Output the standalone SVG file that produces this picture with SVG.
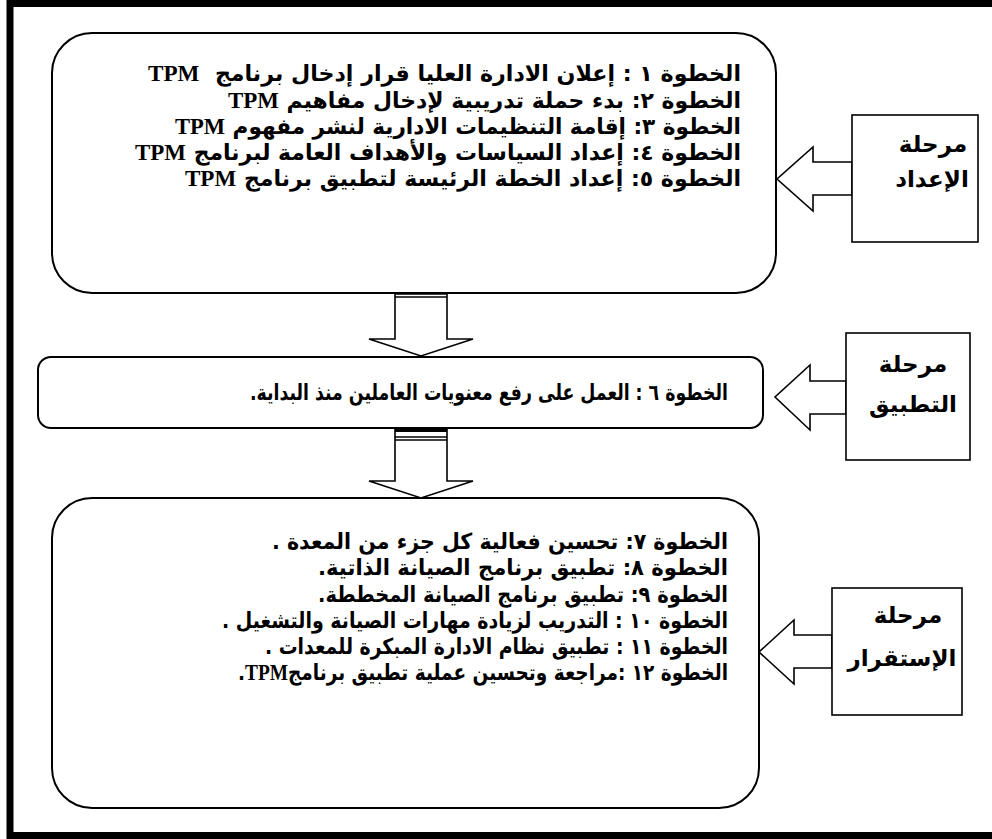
<svg xmlns="http://www.w3.org/2000/svg" width="992" height="839" viewBox="0 0 992 839">
<style>
.frame{fill:none;stroke:#000;stroke-width:7}
.box{fill:#fff;stroke:#000;stroke-width:2}
.lbl{fill:#fff;stroke:#000;stroke-width:1.6}
.arr{fill:#fff;stroke:#000;stroke-width:1.6;stroke-linejoin:miter}
.t{font-family:"DejaVu Sans",sans-serif;font-weight:bold;font-size:22px;fill:#000;direction:rtl;white-space:pre}
.e{font-family:"Liberation Serif",serif;font-weight:bold;font-size:23px}
.l{font-family:"DejaVu Sans",sans-serif;font-weight:bold;font-size:23px;fill:#000;text-anchor:middle;direction:rtl}
.bar{stroke:#000;stroke-width:1.5}
</style>
<rect class="frame" x="10" y="3.5" width="1000" height="832"/>

<g id="connectors">
  <polygon class="arr" points="395,285 447,285 447,339 473,339 421,356 369,339 395,339"/>
  <rect x="395" y="285" width="52" height="4" fill="#000"/>
  <line class="bar" x1="395" y1="291" x2="447" y2="291"/>
  <line class="bar" x1="395" y1="294" x2="447" y2="294"/>
  <line class="bar" x1="395" y1="297" x2="447" y2="297"/>
  <polygon class="arr" points="395,428 447,428 447,481 473,481 421,498 369,481 395,481"/>
  <rect x="395" y="428" width="52" height="4" fill="#000"/>
  <line class="bar" x1="395" y1="437" x2="447" y2="437"/>
  <line class="bar" x1="395" y1="440" x2="447" y2="440"/>
  <polygon class="arr" points="852,162 813,162 813,147 777,179 813,211 813,195 852,195"/>
  <polygon class="arr" points="846,381 810,381 810,365 775,397 810,430 810,414 846,414"/>
  <polygon class="arr" points="832,635 794,635 794,620 759,652 794,684 794,668 832,668"/>
</g>

<g id="prep">
  <rect class="box" x="52" y="33" width="724" height="260" rx="40" ry="40"/>
  <text class="t" x="741" y="81" textLength="593" lengthAdjust="spacingAndGlyphs">الخطوة ١ : إعلان الادارة العليا قرار إدخال برنامج  <tspan class="e">TPM</tspan></text>
  <text class="t" x="741" y="108" textLength="513" lengthAdjust="spacingAndGlyphs">الخطوة ٢: بدء حملة تدريبية لإدخال مفاهيم <tspan class="e">TPM</tspan></text>
  <text class="t" x="741" y="134" textLength="566" lengthAdjust="spacingAndGlyphs">الخطوة ٣: إقامة التنظيمات الادارية لنشر مفهوم <tspan class="e">TPM</tspan></text>
  <text class="t" x="741" y="160" textLength="606" lengthAdjust="spacingAndGlyphs">الخطوة ٤: إعداد السياسات والأهداف العامة لبرنامج <tspan class="e">TPM</tspan></text>
  <text class="t" x="741" y="186" textLength="556" lengthAdjust="spacingAndGlyphs">الخطوة ٥: إعداد الخطة الرئيسة لتطبيق برنامج <tspan class="e">TPM</tspan></text>
</g>

<g id="step6">
  <rect class="box" x="38" y="357" width="725" height="71" rx="13" ry="13"/>
  <text class="t" x="728" y="400" textLength="478" lengthAdjust="spacingAndGlyphs">الخطوة ٦ : العمل على رفع معنويات العاملين منذ البداية.</text>
</g>

<g id="stab">
  <rect class="box" x="52" y="498" width="707" height="310" rx="40" ry="40"/>
  <text class="t" x="728" y="549" textLength="456" lengthAdjust="spacingAndGlyphs">الخطوة ٧: تحسين فعالية كل جزء من المعدة .</text>
  <text class="t" x="728" y="575" textLength="410" lengthAdjust="spacingAndGlyphs">الخطوة ٨: تطبيق برنامج الصيانة الذاتية.</text>
  <text class="t" x="728" y="602" textLength="410" lengthAdjust="spacingAndGlyphs">الخطوة ٩: تطبيق برنامج الصيانة المخططة.</text>
  <text class="t" x="728" y="628" textLength="506" lengthAdjust="spacingAndGlyphs">الخطوة ١٠ : التدريب لزيادة مهارات الصيانة والتشغيل .</text>
  <text class="t" x="728" y="654" textLength="463" lengthAdjust="spacingAndGlyphs">الخطوة ١١ : تطبيق نظام الادارة المبكرة للمعدات .</text>
  <text class="t" x="728" y="680" textLength="490" lengthAdjust="spacingAndGlyphs">الخطوة ١٢ :مراجعة وتحسين عملية تطبيق برنامج<tspan class="e">TPM</tspan>.</text>
</g>

<g id="label-prep">
  <rect class="lbl" x="852" y="115" width="126" height="127"/>
  <text class="l" x="933" y="152">مرحلة</text>
  <text class="l" x="932" y="187">الإعداد</text>
</g>
<g id="label-apply">
  <rect class="lbl" x="846" y="333" width="124" height="127"/>
  <text class="l" x="913" y="372">مرحلة</text>
  <text class="l" x="913" y="412">التطبيق</text>
</g>
<g id="label-stab">
  <rect class="lbl" x="832" y="588" width="130" height="127"/>
  <text class="l" x="908" y="623">مرحلة</text>
  <text class="l" x="902" y="666">الإستقرار</text>
</g>
</svg>
